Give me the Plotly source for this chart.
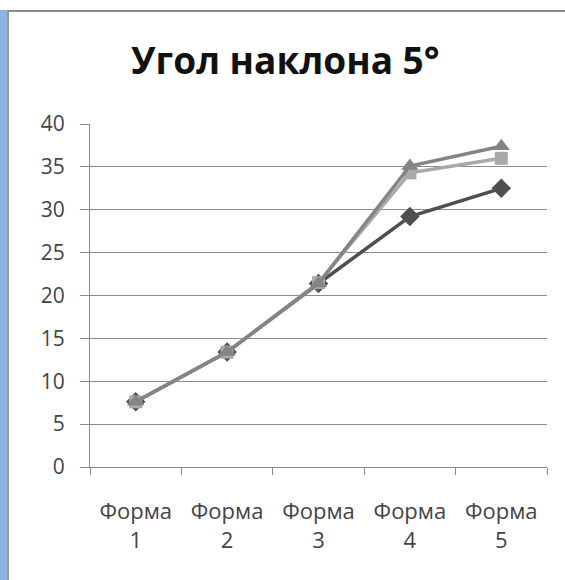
import plotly.graph_objects as go

# Categories and measured series
categories = ["Форма<br>1", "Форма<br>2", "Форма<br>3", "Форма<br>4", "Форма<br>5"]
series_a = [7.6, 13.4, 21.4, 29.2, 32.5]   # diamonds
series_b = [7.6, 13.4, 21.5, 34.3, 36.0]   # squares
series_c = [7.6, 13.4, 21.4, 35.1, 37.4]   # triangles
y_ticks = [0, 5, 10, 15, 20, 25, 30, 35, 40]

fig = go.Figure()

styles = [
    (series_a, "#4f4f4f", "diamond", 15),
    (series_b, "#a9a9a9", "square", 13),
    (series_c, "#848484", "triangle-up", 15),
]
for vals, col, sym, sz in styles:
    fig.add_trace(go.Scatter(
        x=categories, y=vals, mode="lines+markers",
        line=dict(color=col, width=3.5),
        marker=dict(symbol=sym, size=sz, color=col, line=dict(width=0)),
        showlegend=False,
    ))

font_family = "Open Sans, DejaVu Sans, sans-serif"

fig.update_layout(
    width=565, height=580,
    margin=dict(l=90, r=18, t=124, b=113),
    paper_bgcolor="white", plot_bgcolor="white",
    title=dict(
        text="<b>Угол наклона 5°</b>",
        x=0.505, xref="container", xanchor="center",
        y=1 - 61 / 580, yref="container", yanchor="middle",
        font=dict(family=font_family, size=37, color="#111111"),
    ),
    xaxis=dict(
        type="category", range=[-0.5, 4.5],
        showgrid=False, showline=True, linecolor="#8a8a8a", linewidth=1,
        ticks="outside", tickson="boundaries", ticklen=7, tickcolor="#8a8a8a",
        ticklabelstandoff=25,
        tickfont=dict(family=font_family, size=22, color="#444444"),
    ),
    yaxis=dict(
        range=[0, 40], tickvals=y_ticks,
        showgrid=True, gridcolor="#8c8c8c", gridwidth=1,
        showline=True, linecolor="#8a8a8a", linewidth=1,
        ticks="outside", ticklen=9, tickcolor="#8a8a8a",
        ticklabelstandoff=11,
        tickfont=dict(family=font_family, size=21, color="#444444"),
        zeroline=False,
    ),
)

# Frame edges around the chart area
fig.add_shape(type="rect", xref="paper", yref="paper",
              xsizemode="pixel", ysizemode="pixel", xanchor=0, yanchor=0,
              x0=-90, x1=-83, y0=-113, y1=457,
              fillcolor="#8fb4e3", line=dict(width=0), layer="above")
fig.add_shape(type="line", xref="paper", yref="paper",
              xsizemode="pixel", ysizemode="pixel", xanchor=0, yanchor=0,
              x0=-82, x1=-82, y0=-113, y1=457,
              line=dict(color="#9a9a9a", width=2), layer="above")
fig.add_shape(type="line", xref="paper", yref="paper",
              xsizemode="pixel", ysizemode="pixel", xanchor=0, yanchor=1,
              x0=-82, x1=475, y0=113, y1=113,
              line=dict(color="#8c8c8c", width=2), layer="above")

fig.write_html("out.html")
